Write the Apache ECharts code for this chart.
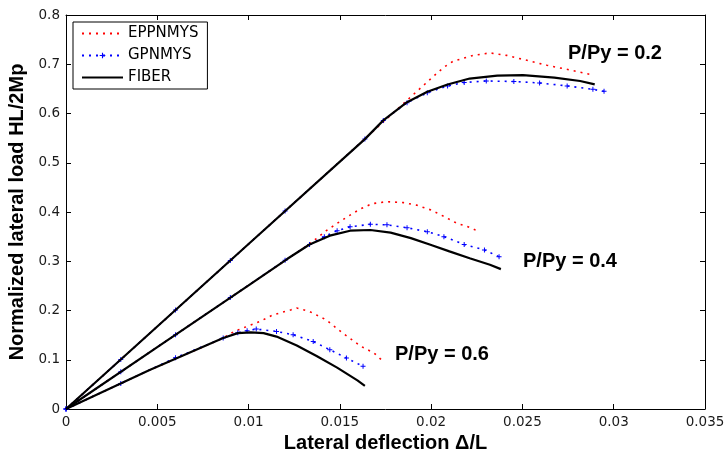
<!DOCTYPE html>
<html>
<head>
<meta charset="utf-8">
<script src="https://cdn.jsdelivr.net/npm/echarts@6/dist/echarts.min.js"></script>
<style>
html,body{margin:0;padding:0;background:#fff;}
#chart{width:726px;height:455px;}
</style>
</head>
<body>
<div id="chart"></div>
<script>
// ---- Data ----
const legendNames = ['EPPNMYS', 'GPNMYS', 'FIBER'];
const loadLabels = ['P/Py = 0.2', 'P/Py = 0.4', 'P/Py = 0.6'];
const xTicks = [0, 0.005, 0.01, 0.015, 0.02, 0.025, 0.03, 0.035];
const yTicks = [0, 0.1, 0.2, 0.3, 0.4, 0.5, 0.6, 0.7, 0.8];

// P/Py = 0.2
const eppX02 = [0, 0.005, 0.010, 0.015, 0.02020, 0.02070, 0.02120, 0.02231, 0.02322, 0.02413, 0.02524, 0.02634, 0.02765, 0.02876];
const eppY02 = [0, 0.1675, 0.335, 0.5025, 0.678, 0.694, 0.706, 0.718, 0.723, 0.718, 0.708, 0.698, 0.688, 0.679];
const gpnX02 = [0, 0.003, 0.006, 0.009, 0.012, 0.01637, 0.01738, 0.01868, 0.01979, 0.02090, 0.02181, 0.02302, 0.02453, 0.02594, 0.02745, 0.02886, 0.02947];
const gpnY02 = [0, 0.1005, 0.201, 0.3015, 0.402, 0.548, 0.586, 0.622, 0.642, 0.656, 0.663, 0.666, 0.665, 0.662, 0.656, 0.649, 0.645];
const fibX02 = [0, 0.005, 0.010, 0.01637, 0.01738, 0.01868, 0.01979, 0.02090, 0.02211, 0.02362, 0.02503, 0.02675, 0.02816, 0.02896];
const fibY02 = [0, 0.1675, 0.335, 0.548, 0.586, 0.623, 0.644, 0.659, 0.671, 0.677, 0.678, 0.673, 0.666, 0.659];

// P/Py = 0.4
const eppX04 = [0, 0.005, 0.010, 0.01314, 0.01375, 0.01425, 0.01506, 0.01566, 0.01617, 0.01677, 0.01758, 0.01848, 0.01919, 0.02000, 0.02070, 0.02141, 0.02201, 0.02251];
const eppY04 = [0, 0.1257, 0.251, 0.330, 0.347, 0.362, 0.382, 0.396, 0.407, 0.417, 0.421, 0.419, 0.414, 0.404, 0.391, 0.377, 0.370, 0.362];
const gpnX04 = [0, 0.003, 0.006, 0.009, 0.012, 0.01334, 0.01415, 0.01485, 0.01556, 0.01667, 0.01758, 0.01868, 0.01979, 0.02070, 0.02181, 0.02292, 0.02372];
const gpnY04 = [0, 0.0754, 0.1508, 0.2262, 0.302, 0.334, 0.350, 0.362, 0.370, 0.375, 0.374, 0.368, 0.360, 0.350, 0.334, 0.323, 0.309];
const fibX04 = [0, 0.005, 0.010, 0.01213, 0.01334, 0.01445, 0.01556, 0.01667, 0.01778, 0.01889, 0.02000, 0.02100, 0.02211, 0.02322, 0.02382];
const fibY04 = [0, 0.1257, 0.251, 0.305, 0.334, 0.352, 0.362, 0.3635, 0.358, 0.347, 0.333, 0.320, 0.306, 0.293, 0.284];

// P/Py = 0.6
const eppX06 = [0, 0.00458, 0.00861, 0.00921, 0.00992, 0.01062, 0.01133, 0.01233, 0.01264, 0.01334, 0.01425, 0.01516, 0.01617, 0.01687, 0.01727];
const eppY06 = [0, 0.079, 0.144, 0.1575, 0.1676, 0.1777, 0.191, 0.2014, 0.2049, 0.198, 0.181, 0.154, 0.127, 0.1137, 0.100];
const gpnX06 = [0, 0.003, 0.006, 0.00861, 0.00941, 0.00992, 0.01042, 0.01153, 0.01244, 0.01354, 0.01445, 0.01536, 0.01627];
const gpnY06 = [0, 0.052, 0.104, 0.144, 0.155, 0.159, 0.1623, 0.1575, 0.1508, 0.137, 0.1204, 0.1035, 0.0866];
const fibX06 = [0, 0.00458, 0.00861, 0.00941, 0.01012, 0.01082, 0.01153, 0.01264, 0.01375, 0.01485, 0.01596, 0.01637];
const fibY06 = [0, 0.079, 0.144, 0.154, 0.1555, 0.154, 0.147, 0.129, 0.107, 0.084, 0.058, 0.047];

// ---- Build chart ----
const pairs = (xs, ys) => xs.map((x, i) => [x, ys[i]]);
const plusPath = 'path://M2,0L3,0L3,2L5,2L5,3L3,3L3,5L2,5L2,3L0,3L0,2L2,2Z';
const tickFont = '"DejaVu Sans", sans-serif';
const boldFont = '"Liberation Sans", Arial, sans-serif';

function eppSeries(data) {
  return { name: legendNames[0], type: 'line', data, symbol: 'none', smooth: false,
    lineStyle: { color: '#ff0000', width: 1.6, type: [2, 5], cap: 'butt' },
    itemStyle: { color: '#ff0000' }, z: 2 };
}
function gpnSeries(data) {
  return { name: legendNames[1], type: 'line', data, symbol: plusPath, symbolSize: 5,
    showSymbol: true, showAllSymbol: true, smooth: false,
    lineStyle: { color: '#0000ff', width: 1.6, type: [2, 5], cap: 'butt' },
    itemStyle: { color: '#0000ff' }, z: 3 };
}
function fibSeries(data) {
  return { name: legendNames[2], type: 'line', data, symbol: 'none', smooth: false,
    lineStyle: { color: '#000000', width: 2.2, type: 'solid' },
    itemStyle: { color: '#000000' }, z: 4 };
}

const axisCommon = {
  type: 'value',
  axisLine: { show: true, onZero: false, lineStyle: { color: '#000', width: 1 } },
  axisTick: { show: true, inside: true, length: 5, lineStyle: { color: '#000', width: 1 } },
  splitLine: { show: false }
};
const fmt = v => String(+v.toFixed(3));

const option = {
  animation: false,
  backgroundColor: '#ffffff',
  grid: { left: 66, right: 21, top: 15, bottom: 46, containLabel: false, outerBoundsMode: 'none' },
  legend: {
    data: [
      { name: legendNames[0], itemStyle: { opacity: 0 } },
      { name: legendNames[1] },
      { name: legendNames[2], itemStyle: { opacity: 0 } }
    ],
    orient: 'vertical',
    left: 73, top: 22,
    padding: [4, 9, 4, 8],
    itemGap: 7,
    itemWidth: 41,
    itemHeight: 7,
    backgroundColor: '#fff',
    borderColor: '#000',
    borderWidth: 1,
    borderRadius: 0,
    textStyle: { fontFamily: tickFont, fontSize: 15, color: '#000', lineHeight: 14 }
  },
  xAxis: [
    Object.assign({}, axisCommon, {
      min: xTicks[0], max: xTicks[xTicks.length - 1], interval: xTicks[1] - xTicks[0],
      position: 'bottom',
      axisLabel: { show: true, margin: 6, fontFamily: tickFont, fontSize: 13.5, color: '#1a1a1a',
        formatter: fmt, showMinLabel: true, showMaxLabel: true, hideOverlap: false },
      name: 'Lateral deflection \u0394/L', nameLocation: 'middle', nameGap: 20,
      nameTextStyle: { fontFamily: boldFont, fontWeight: 'bold', fontSize: 20, color: '#000' }
    }),
    Object.assign({}, axisCommon, {
      min: xTicks[0], max: xTicks[xTicks.length - 1], interval: xTicks[1] - xTicks[0],
      position: 'top', axisLabel: { show: false }
    })
  ],
  yAxis: [
    Object.assign({}, axisCommon, {
      min: yTicks[0], max: yTicks[yTicks.length - 1], interval: yTicks[1] - yTicks[0],
      position: 'left',
      axisLabel: { show: true, margin: 6, fontFamily: tickFont, fontSize: 13.5, color: '#1a1a1a',
        formatter: fmt, showMinLabel: true, showMaxLabel: true, hideOverlap: false },
      name: 'Normalized lateral load HL/2Mp', nameLocation: 'middle', nameGap: 32,
      nameTextStyle: { fontFamily: boldFont, fontWeight: 'bold', fontSize: 20, color: '#000' }
    }),
    Object.assign({}, axisCommon, {
      min: yTicks[0], max: yTicks[yTicks.length - 1], interval: yTicks[1] - yTicks[0],
      position: 'right', axisLabel: { show: false }
    })
  ],
  series: [
    eppSeries(pairs(eppX02, eppY02)),
    eppSeries(pairs(eppX04, eppY04)),
    eppSeries(pairs(eppX06, eppY06)),
    gpnSeries(pairs(gpnX02, gpnY02)),
    gpnSeries(pairs(gpnX04, gpnY04)),
    gpnSeries(pairs(gpnX06, gpnY06)),
    fibSeries(pairs(fibX02, fibY02)),
    fibSeries(pairs(fibX04, fibY04)),
    fibSeries(pairs(fibX06, fibY06))
  ],
  graphic: [
    { type: 'text', left: 568, top: 43, style: { text: loadLabels[0], font: 'bold 20px "Liberation Sans", Arial, sans-serif', fill: '#000' } },
    { type: 'text', left: 523, top: 251, style: { text: loadLabels[1], font: 'bold 20px "Liberation Sans", Arial, sans-serif', fill: '#000' } },
    { type: 'text', left: 395, top: 344, style: { text: loadLabels[2], font: 'bold 20px "Liberation Sans", Arial, sans-serif', fill: '#000' } }
  ]
};

const chart = echarts.init(document.getElementById('chart'), null, { renderer: 'canvas' });
chart.setOption(option);
</script>
</body>
</html>
